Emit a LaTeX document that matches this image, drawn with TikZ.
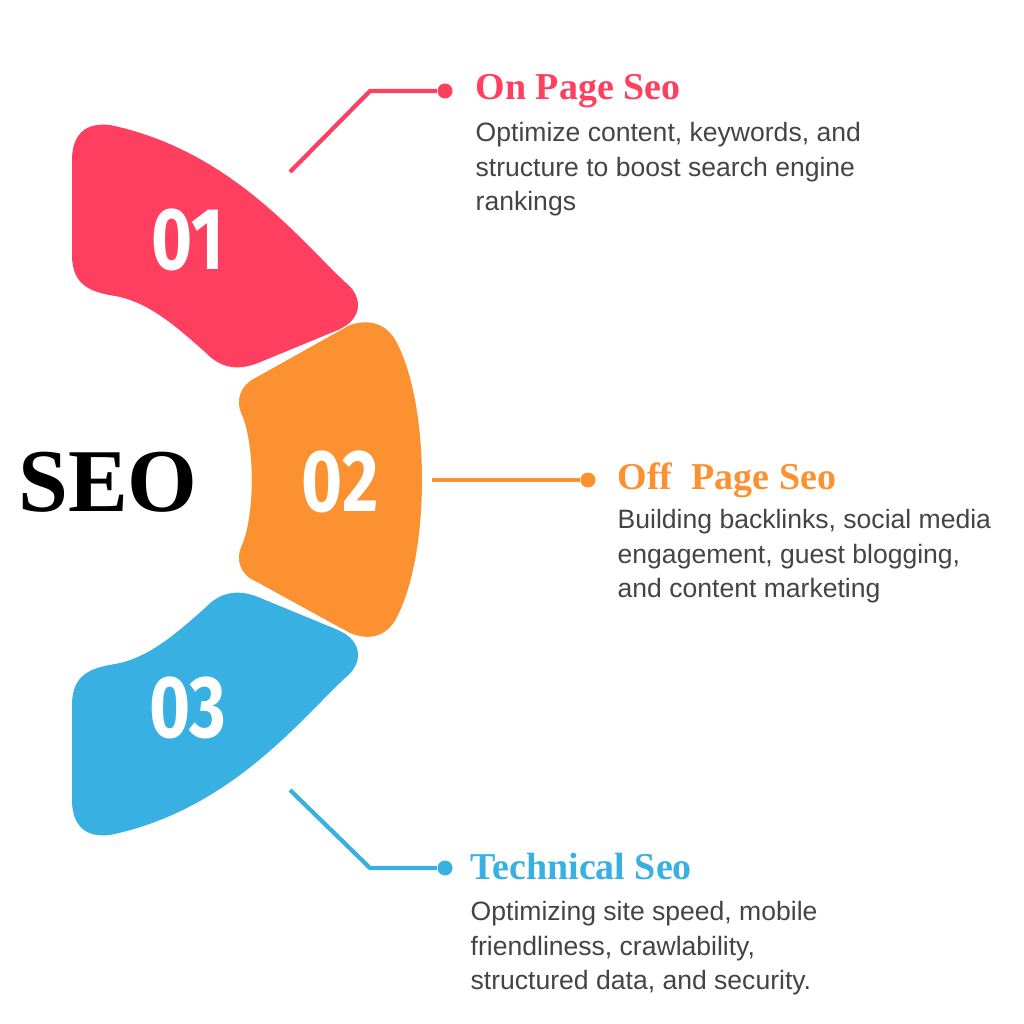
\documentclass[tikz,border=0pt]{standalone}
\usepackage{fontspec}
\setmainfont{Liberation Serif}
\newfontfamily\bodyfont{Liberation Sans}
\newfontfamily\numfont{Fira Sans}
\usepackage{tikz}
\usetikzlibrary{positioning}
\definecolor{segred}{HTML}{FF3F5F}
\definecolor{segorange}{HTML}{FB9130}
\definecolor{segblue}{HTML}{38B0E1}
\definecolor{bodygray}{HTML}{444444}
\tikzstyle{number} = [text=white, font=\numfont\bfseries\fontsize{25}{25}\selectfont, xscale=0.8]
\tikzstyle{title} = [anchor=west, font=\bfseries\fontsize{10.8}{12}\selectfont, inner sep=0pt]
\tikzstyle{body} = [anchor=north west, align=left, text=bodygray, font=\bodyfont\fontsize{7.55}{9.7}\selectfont, inner sep=0pt]
\tikzstyle{dot} = [circle, inner sep=0pt, minimum size=0.15cm]
\tikzstyle{leader} = [line width=1.2pt]
\newcommand{\topseg}{(72,160) -- (72,255) .. controls (72,285) and (90,292) .. (115,296)
  .. controls (150,302) and (180,330) .. (205,352)
  .. controls (222,370) and (240,370) .. (258,363) -- (338,330)
  .. controls (365,318) and (362,295) .. (345,282)
  .. controls (300,240) and (230,150) .. (110,125)
  .. controls (85,122) and (72,135) .. (72,160) -- cycle}

\begin{document}
\begin{tikzpicture}[x=0.01cm, y=-0.01cm]
\useasboundingbox (0,0) rectangle (1024,1024);

% segments
\fill [segred] \topseg;
\fill [segorange] (257,377) -- (350,325) .. controls (375,317) and (390,328) .. (398,345)
  .. controls (430,410) and (430,550) .. (398,615)
  .. controls (390,632) and (375,643) .. (350,633) -- (257,582)
  .. controls (240,575) and (235,560) .. (242,545)
  .. controls (255,515) and (255,445) .. (242,415)
  .. controls (235,400) and (240,385) .. (257,377) -- cycle;
\begin{scope}[shift={(0,960)}, yscale=-1]
\fill [segblue] \topseg;
\end{scope}

\node (n1) [number] at (188,240) {01};
\node (n2) [number] at (340,482) {02};
\node (n3) [number] at (188,708) {03};
\node (seo) [font=\bfseries\fontsize{25.5}{26}\selectfont] at (108,482) {SEO};

% on page
\node (dot1) [dot, fill=segred] at (445,91) {};
\coordinate (from1) at (290,172);
\node (t1) [title, text=segred] at (475,91) {On Page Seo};
\node (b1) [body] at (475,122) {Optimize content, keywords, and\\structure to boost search engine\\rankings};
\draw [leader, segred] (from1) -- (370,91) -- (dot1);

% off page
\node (dot2) [dot, fill=segorange] at (588,480) {};
\coordinate (from2) at (432,480);
\node (t2) [title, text=segorange] at (617,480) {Off\ \ Page Seo};
\node (b2) [body] at (617,509) {Building backlinks, social media\\engagement, guest blogging,\\and content marketing};
\draw [leader, segorange] (from2) -- (dot2);

% technical
\node (dot3) [dot, fill=segblue] at (445,868) {};
\coordinate (from3) at (290,790);
\node (t3) [title, text=segblue] at (470,866) {Technical Seo};
\node (b3) [body] at (470,901) {Optimizing site speed, mobile\\friendliness, crawlability,\\structured data, and security.};
\draw [leader, segblue] (from3) -- (370,868) -- (dot3);

\end{tikzpicture}
\end{document}
